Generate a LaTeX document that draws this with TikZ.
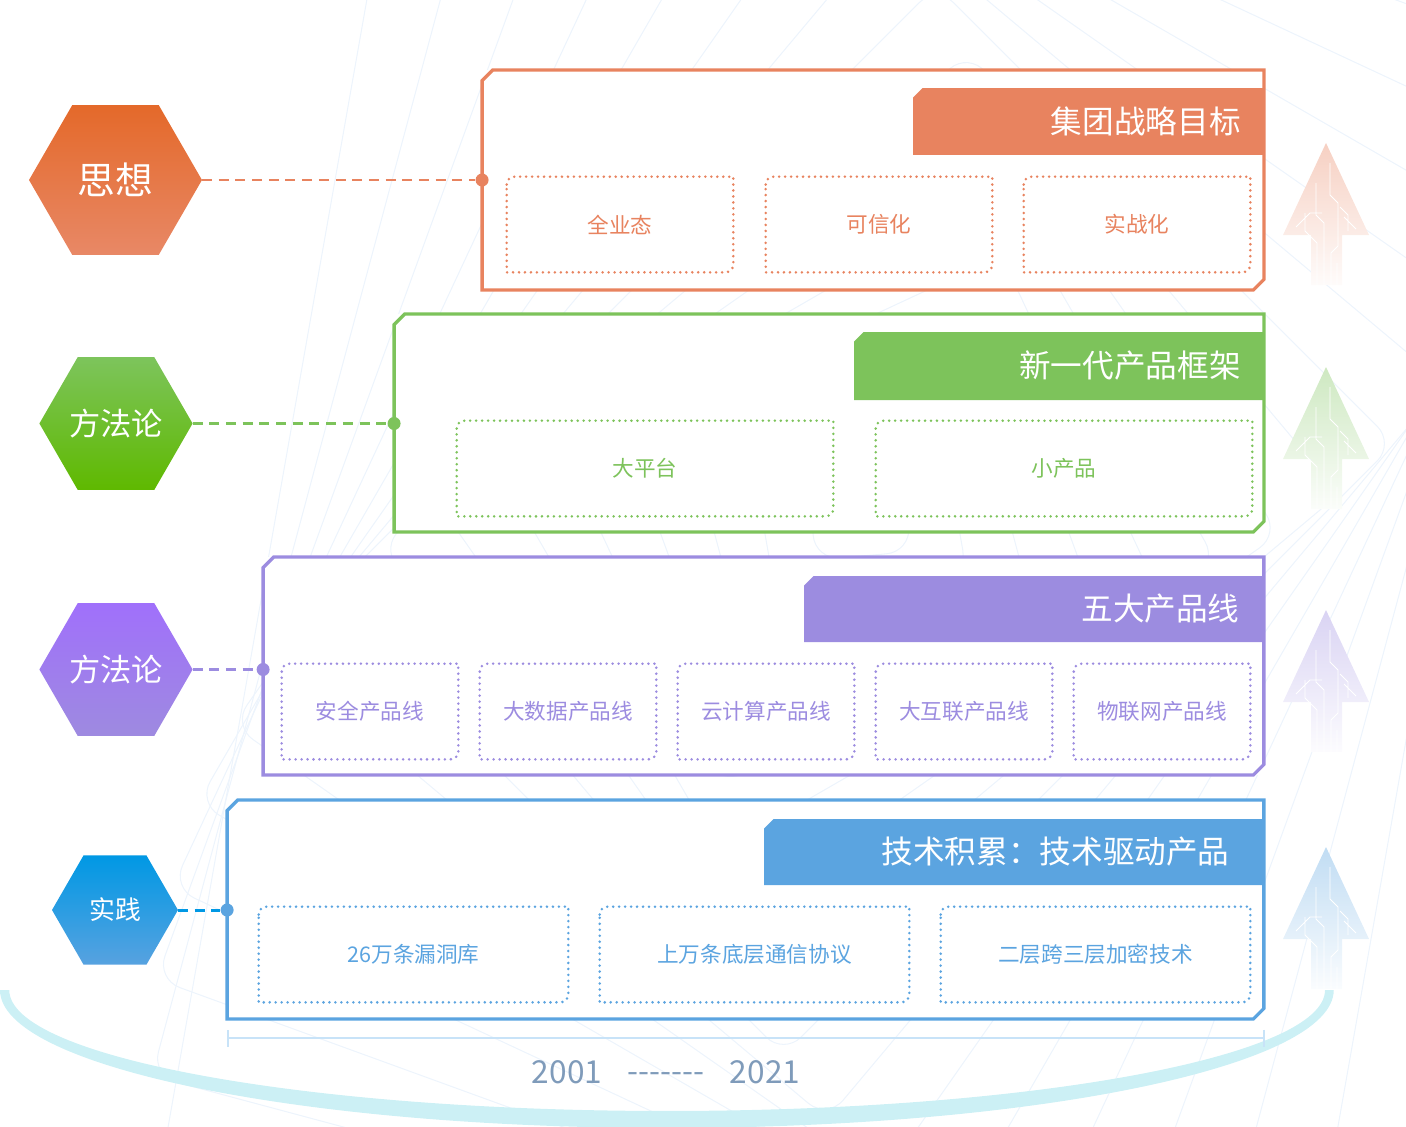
\documentclass[tikz,border=0pt]{standalone}
\usepackage{fontspec}
\setmainfont{Noto Sans CJK SC}
\newfontfamily\yearfont{Noto Sans CJK SC}[Ligatures=TeXOff]
\usetikzlibrary{positioning,shapes.geometric,arrows.meta}

\definecolor{orangeC}{HTML}{E8835F}
\definecolor{greenC}{HTML}{7DC35B}
\definecolor{purpleC}{HTML}{9C8CE0}
\definecolor{blueC}{HTML}{5BA4E0}
\definecolor{orangeTop}{HTML}{E4692A}
\definecolor{orangeBot}{HTML}{E88866}
\definecolor{greenTop}{HTML}{7DC45C}
\definecolor{greenBot}{HTML}{5FB900}
\definecolor{purpleTop}{HTML}{A070FB}
\definecolor{purpleBot}{HTML}{9E8AE0}
\definecolor{blueTop}{HTML}{0098E4}
\definecolor{blueBot}{HTML}{57A2E0}
\definecolor{arcC}{HTML}{CCF0F5}
\definecolor{axisC}{HTML}{C8E3F8}
\definecolor{yearC}{HTML}{7F9BBA}
\definecolor{bgC}{HTML}{EDF4FC}

\begin{document}
\begin{tikzpicture}[
                x=0.02cm, y=-0.02cm,
                hexagon/.style={regular polygon,regular polygon sides=6,inner sep=0pt,outer sep=0pt,text=white},
                panel/.style={rectangle,fill=white,inner sep=0pt,outer sep=0pt},
                tab/.style={rectangle,inner sep=0pt,outer sep=0pt},
                title/.style={text=white,inner sep=0pt,font=\fontsize{18}{20}\selectfont},
                item/.style={rectangle,text=#1,inner sep=0pt,minimum height=1.9cm,font=\fontsize{12.3}{14}\selectfont},
                dotline/.style={line width=1.6pt,line cap=round,dash pattern=on 0pt off 3.4pt},
                link/.style={draw=#1,line width=1.7pt,dash pattern=on 5.7pt off 3.8pt},
                joint/.style={circle,fill=#1,inner sep=0pt,minimum size=0.26cm},
                year/.style={text=yearC,inner sep=0pt,font=\yearfont\fontsize{18}{20}\selectfont}
            ]
                \useasboundingbox (0,0) rectangle (1406,1126);
                \foreach \k in {1,...,16}
                    \draw[bgC,line width=0.6pt,rounded corners=14pt,rotate around={\k*5:(860,520)}]
                        (860-\k*48,520-\k*36) rectangle (860+\k*48,520+\k*36);
                \fill[arcC] (0,990) arc[start angle=180,end angle=360,x radius=13.34cm,y radius=2.76cm]
                    -- (1325,990) arc[start angle=0,end angle=-180,x radius=13.16cm,y radius=2.42cm] -- cycle;
                \foreach \ty/\clr in {143/orangeC,367/greenC,610/purpleC,847/blueC}{
                    \shade[top color=\clr!38,bottom color=\clr!3]
                        (1326,\ty) -- (1369,\ty+92) -- (1342,\ty+92) -- (1342,\ty+142)
                        -- (1311,\ty+142) -- (1311,\ty+92) -- (1283,\ty+92) -- cycle;
                    \draw[white,line width=0.5pt]
                        (1317,\ty+142) -- (1317,\ty+100) -- (1305,\ty+88) -- (1305,\ty+70)
                        (1324,\ty+142) -- (1324,\ty+80) -- (1316,\ty+72) -- (1316,\ty+40)
                        (1331,\ty+142) -- (1331,\ty+110) -- (1338,\ty+103) -- (1338,\ty+60) -- (1330,\ty+52) -- (1330,\ty+20)
                        (1337,\ty+142) -- (1337,\ty+120) (1348,\ty+88) -- (1348,\ty+72) -- (1340,\ty+64)
                        (1296,\ty+84) -- (1310,\ty+70) -- (1322,\ty+70) (1356,\ty+86) -- (1344,\ty+74);
                }

                \node (P1) [panel,minimum width=15.64cm,minimum height=4.4cm] at (873,180) {};
                \node (P2) [panel,minimum width=17.4cm,minimum height=4.36cm] at (829,423) {};
                \node (P3) [panel,minimum width=20.02cm,minimum height=4.36cm] at (763.5,666) {};
                \node (P4) [panel,minimum width=20.74cm,minimum height=4.38cm] at (745.5,909.5) {};
                \foreach \n/\clr in {P1/orangeC,P2/greenC,P3/purpleC,P4/blueC}
                    \draw[\clr,line width=1.9pt] ([yshift=-6pt]\n.north west) -- ([xshift=6pt]\n.north west)
                        -- (\n.north east) -- ([yshift=6pt]\n.south east) -- ([xshift=-6pt]\n.south east)
                        -- (\n.south west) -- cycle;

                \node (T1) [tab,minimum width=7cm,minimum height=1.34cm] at (1088,121.5) {};
                \node (T2) [tab,minimum width=8.18cm,minimum height=1.36cm] at (1058.5,366) {};
                \node (T3) [tab,minimum width=9.18cm,minimum height=1.32cm] at (1033.5,609) {};
                \node (T4) [tab,minimum width=9.98cm,minimum height=1.32cm] at (1013.5,852) {};
                \foreach \n/\clr in {T1/orangeC,T2/greenC,T3/purpleC,T4/blueC}
                    \fill[\clr] ([yshift=-5.5pt]\n.north west) -- ([xshift=5.5pt]\n.north west)
                        -- (\n.north east) -- (\n.south east) -- (\n.south west) -- cycle;
                \node [title,left=0.44cm of T1.east] {集团战略目标};
                \node [title,left=0.44cm of T2.east] {新一代产品框架};
                \node [title,left=0.46cm of T3.east] {五大产品线};
                \node [title,left=0.66cm of T4.east] {技术积累：技术驱动产品};

                \node (A1) [item=orangeC,minimum width=4.52cm] at (620,224.5) {全业态};
                \node (A2) [item=orangeC,minimum width=4.52cm] at (879,224.5) {可信化};
                \node (A3) [item=orangeC,minimum width=4.52cm] at (1137,224.5) {实战化};
                \node (B1) [item=greenC,minimum width=7.52cm] at (645,468.5) {大平台};
                \node (B2) [item=greenC,minimum width=7.52cm] at (1064,468.5) {小产品};
                \node (C1) [item=purpleC,minimum width=3.52cm] at (370,711.5) {安全产品线};
                \node (C2) [item=purpleC,minimum width=3.52cm] at (568,711.5) {大数据产品线};
                \node (C3) [item=purpleC,minimum width=3.52cm] at (766,711.5) {云计算产品线};
                \node (C4) [item=purpleC,minimum width=3.52cm] at (964,711.5) {大互联产品线};
                \node (C5) [item=purpleC,minimum width=3.52cm] at (1162,711.5) {物联网产品线};
                \node (D1) [item=blueC,minimum width=6.18cm] at (413.5,954.5) {26万条漏洞库};
                \node (D2) [item=blueC,minimum width=6.18cm] at (754.5,954.5) {上万条底层通信协议};
                \node (D3) [item=blueC,minimum width=6.18cm] at (1095.5,954.5) {二层跨三层加密技术};
                \foreach \n/\clr in {A1/orangeC,A2/orangeC,A3/orangeC,B1/greenC,B2/greenC,
                        C1/purpleC,C2/purpleC,C3/purpleC,C4/purpleC,C5/purpleC,D1/blueC,D2/blueC,D3/blueC}
                    \draw[\clr,dotline] ([yshift=-4.5pt]\n.north west) arc[start angle=180,end angle=90,radius=4.5pt]
                        -- (\n.north east) -- ([yshift=4.5pt]\n.south east) arc[start angle=0,end angle=-90,radius=4.5pt]
                        -- (\n.south west) -- cycle;

                \node (H1) [hexagon,minimum size=3.46cm,top color=orangeTop,bottom color=orangeBot,
                    font=\fontsize{21.5}{24}\selectfont] at (115.5,180) {思想};
                \node (H2) [hexagon,minimum size=2.96cm,top color=greenTop,bottom color=greenBot,
                    font=\fontsize{17.8}{20}\selectfont] at (116,423.5) {方法论};
                \node (H3) [hexagon,minimum size=2.96cm,top color=purpleTop,bottom color=purpleBot,
                    font=\fontsize{17.8}{20}\selectfont] at (116,669.5) {方法论};
                \node (H4) [hexagon,minimum size=2.52cm,top color=blueTop,bottom color=blueBot,
                    font=\fontsize{14.7}{17}\selectfont] at (115,910) {实践};

                \node (J1) [joint=orangeC] at (P1.west |- H1.east) {};
                \node (J2) [joint=greenC] at (P2.west |- H2.east) {};
                \node (J3) [joint=purpleC] at (P3.west |- H3.east) {};
                \node (J4) [joint=blueC] at (P4.west |- H4.east) {};
                \draw [link=orangeC] (H1.east) -- (J1);
                \draw [link=greenC] (H2.east) -- (J2);
                \draw [link=purpleC] (H3.east) -- (J3);
                \draw [link=blueTop] (H4.east) -- (J4);

                \coordinate (L0) at (227,1038);
                \coordinate (L1) at (1265,1038);
                \draw [axisC,line width=1.1pt,{Bar[width=0.34cm]}-{Bar[width=0.34cm]}] (L0) -- (L1);
                \node (Y0) [year] at (567,1072) {2001};
                \node (Y1) [year] at (666,1078) {-------};
                \node (Y2) [year] at (765,1072) {2021};
            \end{tikzpicture}
\end{document}
